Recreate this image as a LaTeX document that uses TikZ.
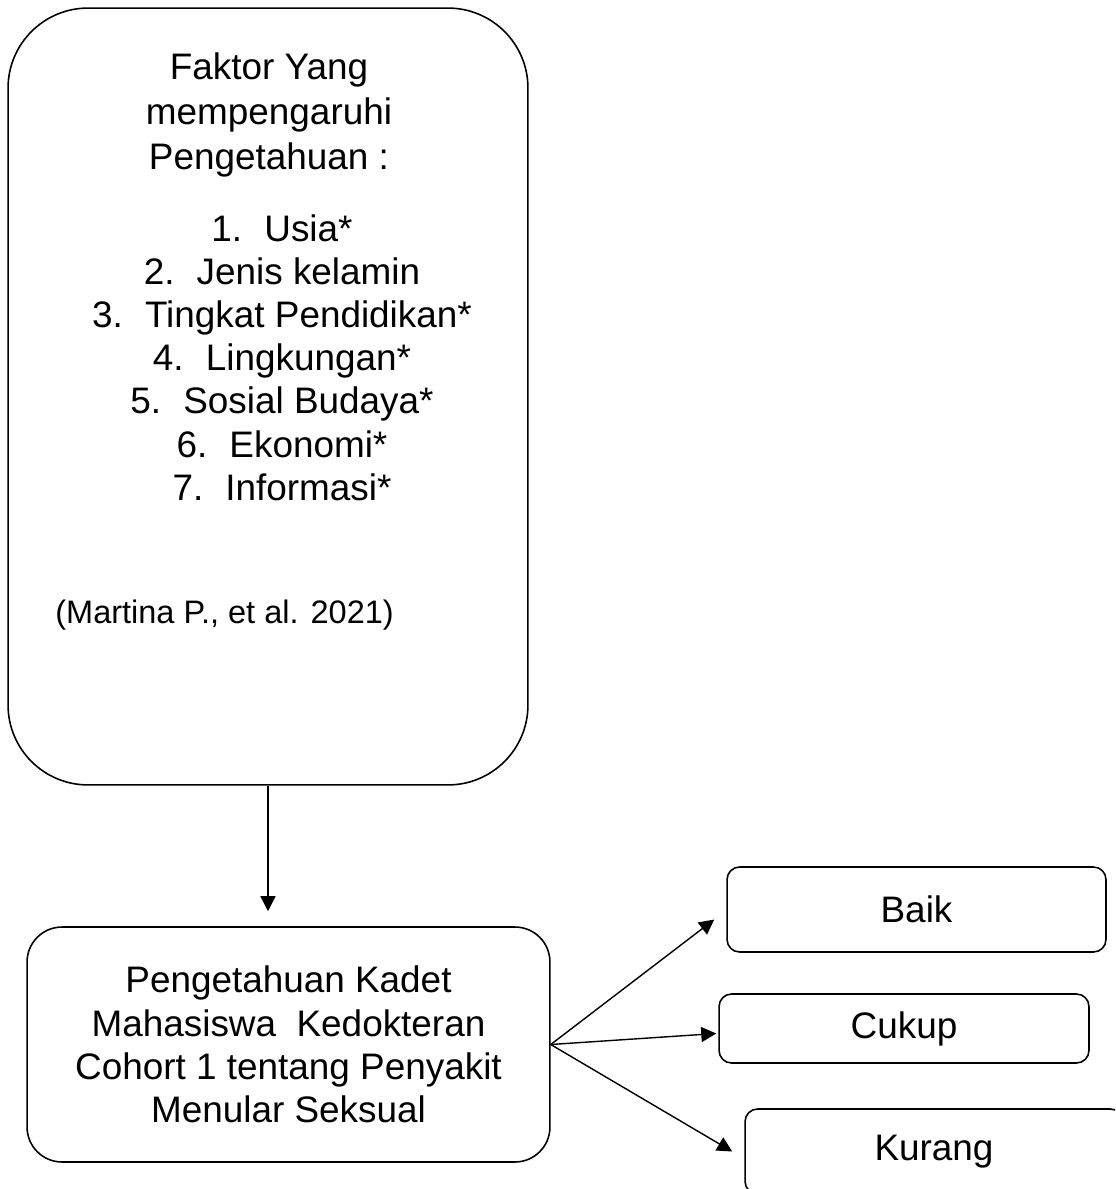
\documentclass[tikz,border=0pt]{standalone}
\usepackage{fontspec}
\setmainfont{Liberation Sans}
\usetikzlibrary{arrows.meta}

\begin{document}
\begin{tikzpicture}[x=0.02cm,y=-0.02cm,>={Triangle[length=0.3cm,width=0.3cm]},
  kotak/.style={draw,line width=0.9pt,inner sep=0pt},
  teks/.style={align=center,inner sep=0pt,font=\fontsize{21}{24.6}\selectfont},
  panah/.style={->,line width=0.8pt}]
\useasboundingbox (0,0) rectangle (1115,1189);
\clip (0,0) rectangle (1115,1189);
% faktor yang mempengaruhi
\node[kotak,rounded corners=1.6cm,minimum width=10.4cm,minimum height=15.54cm] (faktor) at (268,396.5) {};
\node[teks,font=\fontsize{21}{25.6}\selectfont] (judul) at (269,115) {Faktor Yang\\mempengaruhi\\Pengetahuan :};
\node[teks] (daftar) at (282,357.5) {1.\hspace{0.6em}Usia*\\2.\hspace{0.6em}Jenis kelamin\\3.\hspace{0.6em}Tingkat Pendidikan*\\4.\hspace{0.6em}Lingkungan*\\5.\hspace{0.6em}Sosial Budaya*\\6.\hspace{0.6em}Ekonomi*\\7.\hspace{0.6em}Informasi*};
\node[anchor=west,inner sep=0pt,font=\fontsize{18.5}{21}\selectfont] (sumber) at (55,615) {(Martina P., et al. 2021)};
% pengetahuan kadet
\node[kotak,teks,rounded corners=0.7cm,minimum width=10.46cm,minimum height=4.7cm] (kadet) at (288.5,1044.5) {Pengetahuan Kadet\\Mahasiswa\ \ Kedokteran\\Cohort 1 tentang Penyakit\\Menular Seksual};
% kategori
\node[kotak,teks,rounded corners=0.25cm,minimum width=7.58cm,minimum height=1.7cm] (baik) at (916.5,909.5) {Baik};
\node[kotak,teks,rounded corners=0.25cm,minimum width=7.4cm,minimum height=1.38cm] (cukup) at (904,1028.5) {Cukup};
\node[kotak,teks,rounded corners=0.25cm,minimum width=7.56cm,minimum height=1.7cm] (kurang) at (934,1151.5) {Kurang};
% panah
\draw[panah,shorten >=0.3cm] (faktor.south) -- (faktor.south |- kadet.north);
\draw[panah] (kadet.east) -- ([xshift=-0.24cm,yshift=-0.2cm]baik.west);
\draw[panah] (kadet.east) -- ([xshift=-0.04cm,yshift=-0.1cm]cukup.west);
\draw[panah] (kadet.east) -- ([xshift=-0.24cm]kurang.west);
\end{tikzpicture}
\end{document}
